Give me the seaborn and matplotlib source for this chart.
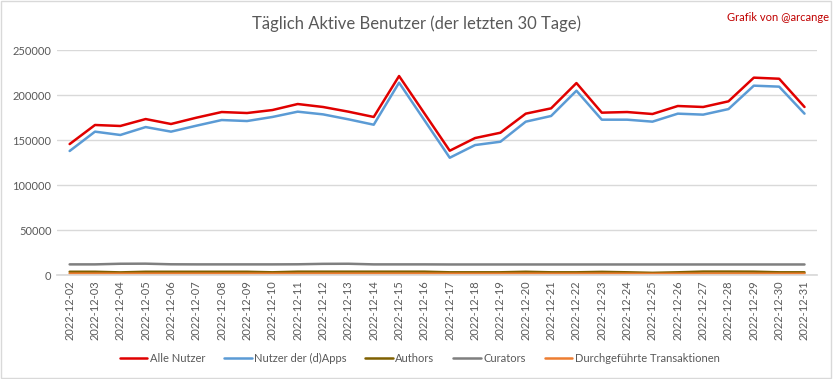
import pandas as pd
import matplotlib.pyplot as plt
import matplotlib.patches as patches
import seaborn as sns

dates = [f"2022-12-{d:02d}" for d in range(2, 32)]

alle_nutzer = [145500, 166700, 165600, 173300, 167800, 174800, 181100, 180000, 183300, 190000,
               186700, 181500, 175600, 221100, 179600, 138100, 152200, 158100, 179300, 185200,
               213300, 180400, 181100, 178900, 187800, 186700, 193000, 219300, 218100, 186700]
dapps_nutzer = [137800, 159300, 155600, 164400, 159300, 165900, 172200, 171100, 175600, 181500,
                178500, 173000, 167000, 213700, 172000, 130300, 144400, 148100, 170400, 176700,
                204800, 172600, 172600, 170400, 179300, 178200, 184400, 210400, 209300, 179300]
authors = [3600, 3600, 2900, 3600, 3600, 3600, 3600, 3600, 3000, 3700,
           3700, 3700, 3700, 3700, 3700, 3000, 3000, 3000, 3600, 3000,
           3000, 3500, 3000, 2400, 3000, 3800, 3800, 3700, 3000, 3000]
curators = [11800, 11800, 12500, 12600, 11900, 11800, 11800, 11800, 11800, 11900,
            12400, 12500, 11800, 11800, 11800, 11700, 11700, 11700, 11700, 11700,
            11700, 11700, 11700, 11700, 11700, 11700, 11700, 11700, 11700, 11700]
transaktionen = [1500, 1500, 1400, 1500, 1500, 1500, 1500, 1500, 1400, 1500,
                 1500, 1500, 1500, 1500, 1500, 1400, 1400, 1400, 1500, 1400,
                 1400, 1500, 1400, 1200, 1400, 1500, 1500, 1500, 1400, 1400]

series_names = ["Alle Nutzer", "Nutzer der (d)Apps", "Authors", "Curators",
                "Durchgeführte Transaktionen"]
series_colors = ["#E00000", "#5B9BD5", "#7F6000", "#7F7F7F", "#ED7D31"]

sns.set_theme(style="white")
plt.rcParams["font.family"] = ["Lato", "DejaVu Sans"]

rows = []
for name, vals in zip(series_names,
                      [alle_nutzer, dapps_nutzer, authors, curators, transaktionen]):
    for i, v in enumerate(vals):
        rows.append({"idx": i, "wert": v, "serie": name})
df = pd.DataFrame(rows)

fig = plt.figure(figsize=(8.33, 3.79), dpi=100)
ax = fig.add_axes([0.0684, 0.2744, 0.9126, 0.5936])

sns.lineplot(data=df, x="idx", y="wert", hue="serie", hue_order=series_names,
             palette=series_colors, linewidth=1.8, ax=ax, legend=True)

ax.set_xlim(-0.5, len(dates) - 0.5)
ax.set_ylim(0, 250000)
ax.set_yticks(range(0, 250001, 50000))
ax.set_yticklabels([str(v) for v in range(0, 250001, 50000)], fontsize=8, color="#595959")
ax.set_xticks(range(len(dates)))
ax.set_xticklabels(dates, rotation=90, fontsize=8, color="#595959")
ax.tick_params(axis="both", length=0, pad=4)
ax.set_xlabel("")
ax.set_ylabel("")
ax.grid(axis="y", color="#D9D9D9", linewidth=1)
ax.set_axisbelow(True)
for s in ["top", "right", "left"]:
    ax.spines[s].set_visible(False)
ax.spines["bottom"].set_color("#D9D9D9")

handles, labels = ax.get_legend_handles_labels()
ax.legend(handles, labels, loc="center", bbox_to_anchor=(0.477, -0.37), ncol=5,
          frameon=False, fontsize=8, handlelength=2.5, columnspacing=1.7,
          handletextpad=0.2, labelcolor="#595959")

fig.text(0.5, 0.938, "Täglich Aktive Benutzer (der letzten 30 Tage)", ha="center",
         va="center", fontsize=12, color="#595959")
fig.text(0.995, 0.955, "Grafik von @arcange", ha="right", va="center",
         fontsize=8, color="#C00000")

fig.patches.append(patches.Rectangle((0.001, 0.002), 0.997, 0.995, transform=fig.transFigure,
                                     fill=False, edgecolor="#D9D9D9", linewidth=1))

fig.savefig("out.png", dpi=100, facecolor="white")
